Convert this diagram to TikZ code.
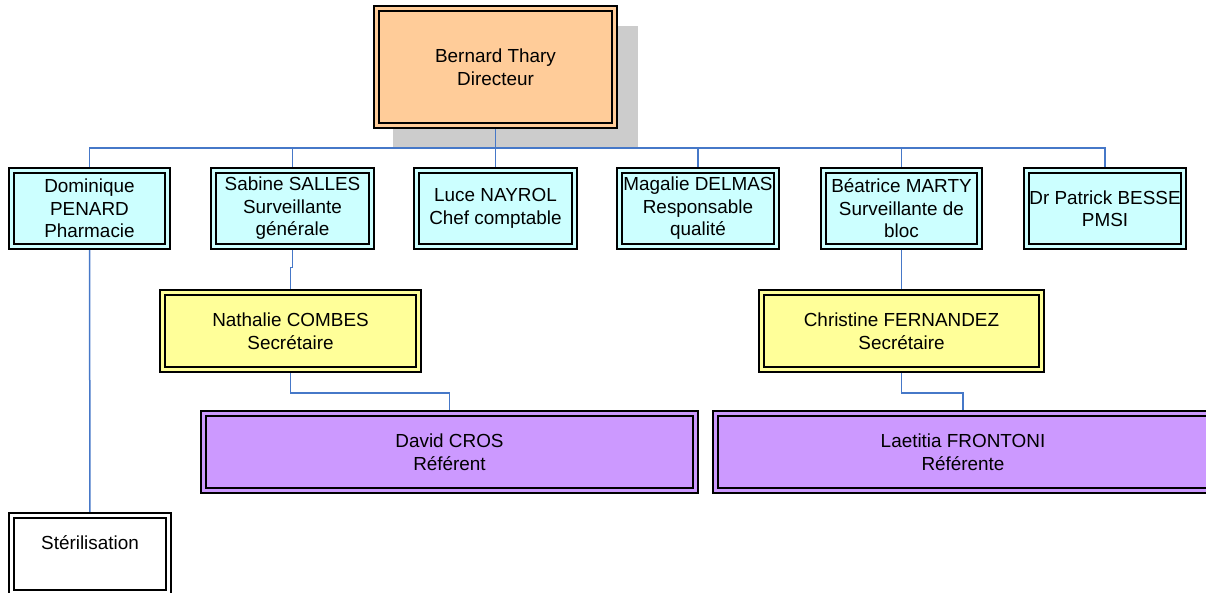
\documentclass[tikz,border=0pt]{standalone}
\usepackage{fontspec}
\setmainfont{Liberation Sans}
\usetikzlibrary{backgrounds}
\definecolor{orgfill}{HTML}{FFCC99}
\definecolor{cyanfill}{HTML}{CCFFFF}
\definecolor{yelfill}{HTML}{FFFF99}
\definecolor{purfill}{HTML}{CC99FF}
\definecolor{shadowgray}{HTML}{CCCCCC}
\definecolor{connblue}{RGB}{70,120,200}
\tikzset{
  box/.style={draw=black, line width=1.5pt, double distance=3.2pt, inner sep=0pt, align=center,
    font=\fontsize{18.9}{22.5}\selectfont},
  orgbox/.style={box, fill=orgfill, double=orgfill},
  cybox/.style={box, fill=cyanfill, double=cyanfill},
  yebox/.style={box, fill=yelfill, double=yelfill},
  pubox/.style={box, fill=purfill, double=purfill},
  whbox/.style={box, fill=white, double=white},
  conn/.style={draw=connblue, line width=1.5pt},
}
\begin{document}
\begin{tikzpicture}[x=1pt,y=-1pt]
\useasboundingbox (0,0) rectangle (1206,592);
\node[orgbox, minimum width=238pt, minimum height=117pt] (bern) at (495.5,67) {Bernard Thary\\Directeur};
\node[cybox, minimum width=156pt, minimum height=76pt] (dom) at (89.5,208.5) {Dominique\\PENARD\\Pharmacie};
\node[cybox, minimum width=158pt, minimum height=76pt] (sab) at (292.5,208.5) {Sabine SALLES\\Surveillante\\générale};
\node[cybox, minimum width=158pt, minimum height=76pt] (luc) at (495.5,208.5) {Luce NAYROL\\Chef comptable};
\node[cybox, minimum width=157pt, minimum height=76pt] (mag) at (698,208.5) {Magalie DELMAS\\Responsable\\qualité};
\node[cybox, minimum width=156pt, minimum height=76pt] (bea) at (901.5,208.5) {Béatrice MARTY\\Surveillante de\\bloc};
\node[cybox, minimum width=157pt, minimum height=76pt] (pat) at (1105,208.5) {Dr Patrick BESSE\\PMSI};
\node[yebox, minimum width=256pt, minimum height=77pt] (nat) at (290.5,331) {Nathalie COMBES\\Secrétaire};
\node[yebox, minimum width=280pt, minimum height=77pt] (chr) at (901.5,331) {Christine FERNANDEZ\\Secrétaire};
\node[pubox, minimum width=492pt, minimum height=77pt] (dav) at (449.5,452) {David CROS\\Référent};
\node[pubox, minimum width=495pt, minimum height=77pt] (lae) at (963,452) {Laetitia FRONTONI\\Référente};
\node[whbox, minimum width=157pt, minimum height=77pt] (ste) at (90,554) {Stérilisation\\\mbox{}};
\coordinate (bus) at (495.5,148);
\begin{scope}[on background layer]
  \fill[shadowgray] (393,26) rectangle (638,148);
  \draw[conn] (bern.south) -- (bus);
  \draw[conn] (dom.north) |- (bus);
  \draw[conn] (sab.north) |- (bus);
  \draw[conn] (luc.north) |- (bus);
  \draw[conn] (mag.north) |- (bus);
  \draw[conn] (bea.north) |- (bus);
  \draw[conn] (pat.north) |- (bus);
  \draw[conn] (dom.south) -- (ste.north);
  \draw[conn] (sab.south) -- ++(0,20) -| (nat.north);
  \draw[conn] (bea.south) -- (chr.north);
  \draw[conn] (nat.south) -- ++(0,22.5) -| (dav.north);
  \draw[conn] (chr.south) -- ++(0,22.5) -| (lae.north);
\end{scope}
\end{tikzpicture}
\end{document}
